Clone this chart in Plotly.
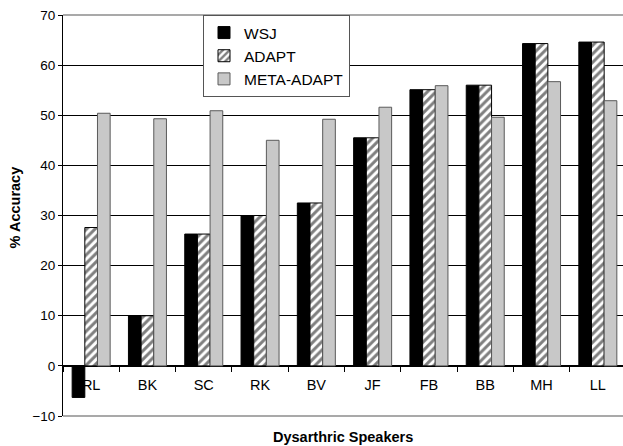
import plotly.graph_objects as go

speakers = ["RL", "BK", "SC", "RK", "BV", "JF", "FB", "BB", "MH", "LL"]
wsj = [-6.3, 10.0, 26.3, 30.0, 32.5, 45.5, 55.1, 56.0, 64.3, 64.6]
adapt = [27.6, 10.0, 26.3, 30.0, 32.5, 45.5, 55.1, 56.0, 64.3, 64.6]
meta_adapt = [50.4, 49.3, 50.9, 45.0, 49.2, 51.6, 55.9, 49.6, 56.7, 52.9]
y_ticks = [-10, 0, 10, 20, 30, 40, 50, 60, 70]

FONT = "Arial, Liberation Sans, sans-serif"

fig = go.Figure()
fig.add_trace(go.Bar(
    x=speakers, y=wsj, name="WSJ",
    marker=dict(color="black", line=dict(color="black", width=1)),
))
fig.add_trace(go.Bar(
    x=speakers, y=adapt, name="ADAPT",
    marker=dict(color="white", line=dict(color="black", width=1),
                pattern=dict(shape="/", fgcolor="black", bgcolor="white",
                             size=6, solidity=0.5)),
))
fig.add_trace(go.Bar(
    x=speakers, y=meta_adapt, name="META-ADAPT",
    marker=dict(color="#c8c8c8", line=dict(color="#5a5a5a", width=1)),
))

fig.update_layout(
    width=623, height=446,
    margin=dict(l=63, r=0, t=15, b=30),
    paper_bgcolor="white", plot_bgcolor="white",
    barmode="group", bargap=0.325, bargroupgap=0,
    font=dict(family=FONT, size=14, color="black"),
    showlegend=True,
    legend=dict(
        x=0.25, y=1.0, xanchor="left", yanchor="top",
        bgcolor="white", bordercolor="#555555", borderwidth=1,
        font=dict(family=FONT, size=15.5, color="black"),
        tracegroupgap=0, itemwidth=30,
    ),
    xaxis=dict(
        type="category", range=[-0.5, 9.447],
        anchor="free", position=0.125,
        showline=True, linecolor="black", linewidth=1,
        ticks="outside", ticklen=5, tickcolor="black", tickson="boundaries",
        showgrid=False, layer="below traces",
        ticklabelstandoff=6,
        tickfont=dict(family=FONT, size=14.5, color="black"),
    ),
    yaxis=dict(
        range=[-10, 70], tickvals=y_ticks,
        showline=True, linecolor="black", linewidth=1,
        ticks="outside", ticklen=4, tickcolor="black",
        showgrid=True, gridcolor="black", gridwidth=1,
        zeroline=False,
        tickfont=dict(family=FONT, size=13.5, color="black"),
    ),
    shapes=[
        dict(type="line", xref="paper", yref="paper", x0=0, x1=1, y0=1, y1=1,
             line=dict(color="#8c8c8c", width=1.5), layer="above"),
        dict(type="line", xref="paper", yref="paper", x0=0, x1=1, y0=0, y1=0,
             line=dict(color="#8c8c8c", width=1.5), layer="above"),
    ],
    annotations=[
        dict(text="<b>Dysarthric Speakers</b>", xref="paper", yref="paper",
             x=0.5, y=-0.053, xanchor="center", yanchor="middle",
             showarrow=False, font=dict(family=FONT, size=14.5, color="black")),
        dict(text="<b>% Accuracy</b>", xref="paper", yref="paper",
             x=-0.084, y=0.52, xanchor="center", yanchor="middle",
             textangle=-90, showarrow=False,
             font=dict(family=FONT, size=14.5, color="black")),
    ],
)

fig.write_html("out.html")
